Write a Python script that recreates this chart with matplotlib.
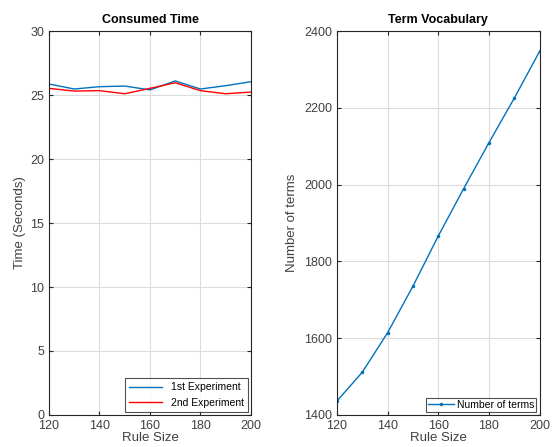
import matplotlib
matplotlib.use('Agg')
import matplotlib.pyplot as plt

plt.rcParams['font.family'] = ['Liberation Sans', 'DejaVu Sans']

rule_size = [120, 130, 140, 150, 160, 170, 180, 190, 200]
time_exp1 = [25.86, 25.47, 25.65, 25.7, 25.4, 26.1, 25.47, 25.73, 26.04]
time_exp2 = [25.52, 25.31, 25.34, 25.1, 25.52, 25.96, 25.34, 25.1, 25.23]
num_terms = [1436, 1511, 1614, 1735, 1866, 1989, 2109, 2225, 2347]

blue = '#0072BD'
fig = plt.figure(figsize=(5.54, 4.47), dpi=100)
ax1 = fig.add_axes([0.0884, 0.0716, 0.3646, 0.859])
ax2 = fig.add_axes([0.608, 0.0716, 0.366, 0.859])


def style(ax):
    ax.grid(True, color='#dcdcdc', linewidth=0.8)
    ax.set_axisbelow(True)
    ax.tick_params(direction='in', top=True, right=True, labelsize=9,
                   colors='#262626', labelcolor='#404040', length=3)
    for s in ax.spines.values():
        s.set_color('#262626')
        s.set_linewidth(0.8)


ax1.plot(rule_size, time_exp1, color=blue, lw=1, label='1st Experiment')
ax1.plot(rule_size, time_exp2, color='r', lw=1, label='2nd Experiment')
ax1.set_xlim(120, 200)
ax1.set_ylim(0, 30)
ax1.set_xticks([120, 140, 160, 180, 200])
ax1.set_yticks([0, 5, 10, 15, 20, 25, 30])
ax1.set_xlabel('Rule Size', fontsize=9.5, labelpad=0, color='#404040')
ax1.set_ylabel('Time (Seconds)', fontsize=9.5, color='#404040', labelpad=3)
ax1.set_title('Consumed Time', fontsize=9, fontweight='bold')
style(ax1)
leg = ax1.legend(loc='lower right', fontsize=7.5, fancybox=False,
                 edgecolor='#262626', borderaxespad=0.3, handlelength=3.2)
leg.get_frame().set_linewidth(0.8)

ax2.plot(rule_size, num_terms, color=blue, lw=1, marker='.', markersize=3,
         label='Number of terms')
ax2.set_xlim(120, 200)
ax2.set_ylim(1400, 2400)
ax2.set_xticks([120, 140, 160, 180, 200])
ax2.set_yticks([1400, 1600, 1800, 2000, 2200, 2400])
ax2.set_xlabel('Rule Size', fontsize=9.5, labelpad=0, color='#404040')
ax2.set_ylabel('Number of terms', fontsize=9.5, color='#404040')
ax2.set_title('Term Vocabulary', fontsize=9, fontweight='bold')
style(ax2)
leg2 = ax2.legend(loc='lower right', fontsize=7.5, fancybox=False,
                  edgecolor='#262626', borderaxespad=0.3, handlelength=2.5,
                  borderpad=0.2, handletextpad=0.3)
leg2.get_frame().set_linewidth(0.8)

fig.savefig('out.png', dpi=100)
